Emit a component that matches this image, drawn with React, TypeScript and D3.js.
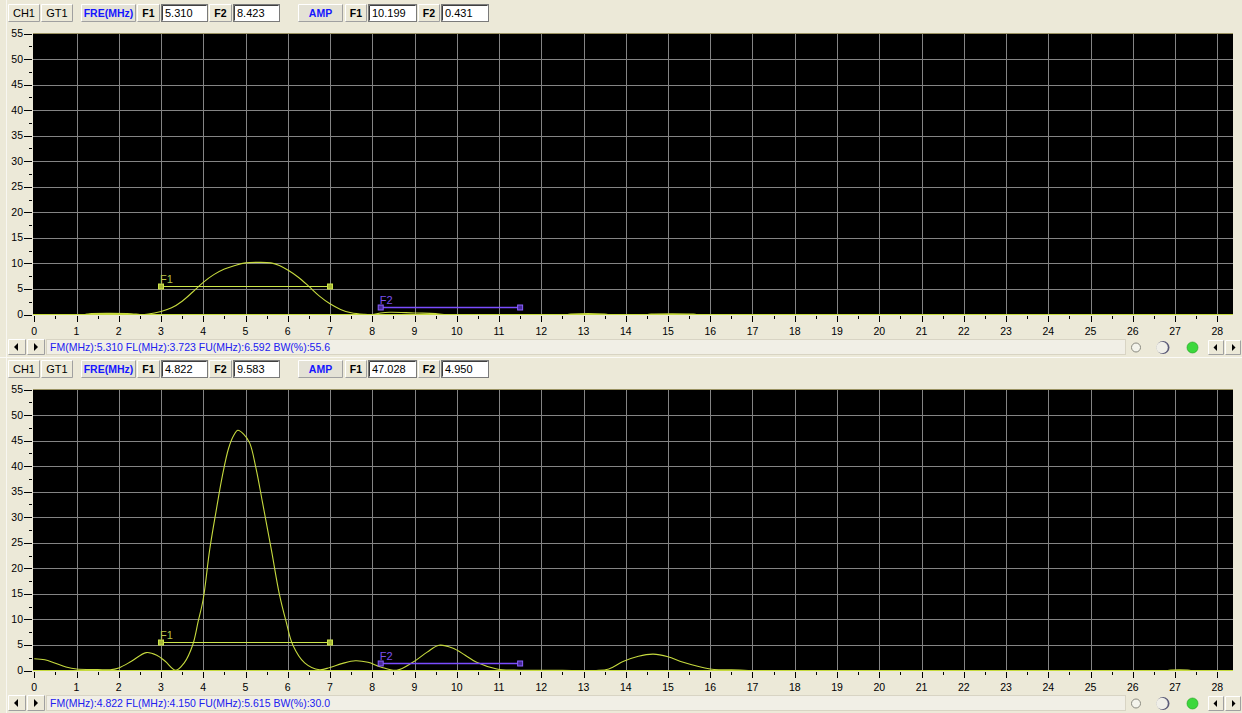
import React from "react";
import * as d3 from "d3";

// frequency axis (MHz) and amplitude axis
const xTicks = d3.range(0, 29);
const xMinorTicks = d3.range(0.5, 28.5, 1);
const yTicks = d3.range(0, 56, 5);
const yMinorTicks = d3.range(2.5, 55, 5);

// top spectrum
const topFreq = [0, 1.2, 1.3, 2.3, 2.5, 2.7, 3.0, 3.25, 3.5, 3.75, 4.0, 4.25, 4.5, 4.75, 5.0, 5.31, 5.6, 5.8, 6.0, 6.25, 6.5, 6.75, 7.0, 7.25, 7.5, 7.8, 8.0, 8.2, 8.42, 9.0, 9.5, 9.7, 12.6, 12.7, 13.5, 13.6, 14.5, 14.6, 15.6, 15.7, 28.4];
const topAmp = [0, 0, 0.15, 0.15, 0, 0.1, 0.6, 1.3, 2.6, 4.4, 6.3, 7.8, 8.9, 9.6, 10.1, 10.2, 10.1, 9.6, 8.7, 7.3, 5.5, 3.6, 2.1, 1.0, 0.35, 0.05, 0, 0.3, 0.43, 0.3, 0.2, 0, 0, 0.1, 0.1, 0, 0, 0.1, 0.1, 0, 0];

// bottom spectrum
const bottomFreq = [0, 0.25, 0.5, 0.75, 1.0, 1.5, 1.8, 2.0, 2.3, 2.65, 2.9, 3.1, 3.35, 3.55, 3.75, 3.88, 4.0, 4.15, 4.3, 4.45, 4.6, 4.72, 4.82, 4.95, 5.1, 5.25, 5.4, 5.615, 5.8, 5.96, 6.12, 6.4, 6.75, 7.0, 7.3, 7.6, 7.9, 8.2, 8.58, 8.96, 9.3, 9.58, 9.9, 10.2, 10.47, 10.95, 11.5, 12.5, 13.3, 13.6, 13.95, 14.3, 14.65, 15.0, 15.36, 16.0, 16.7, 17.0, 26.8, 26.9, 27.3, 27.4, 28.4];
const bottomAmp = [2.3, 2.1, 1.4, 0.7, 0.3, 0.2, 0.15, 0.5, 1.8, 3.5, 3.0, 1.8, 0.05, 1.5, 5.0, 9.6, 14, 23.5, 31, 38, 43.5, 46, 47.03, 46.3, 44.5, 39.5, 33, 23.5, 15, 9.6, 5.0, 1.5, 0.15, 0.6, 1.4, 1.9, 1.6, 0.7, 0.05, 1.6, 3.6, 4.95, 4.4, 3.0, 1.6, 0.3, 0.05, 0.05, 0, 0.3, 1.8, 2.8, 3.2, 2.7, 1.6, 0.3, 0.1, 0, 0, 0.1, 0.1, 0, 0];

// cursor gates
const f1Gate = [3, 7];
const f1Level = 5.5;
const f2Gate = [8.2, 11.5];
const f2Level = 1.5;

const topFields = ["5.310", "8.423", "10.199", "0.431"];
const bottomFields = ["4.822", "9.583", "47.028", "4.950"];
const topStatus = "FM(MHz):5.310 FL(MHz):3.723 FU(MHz):6.592 BW(%):55.6";
const bottomStatus = "FM(MHz):4.822 FL(MHz):4.150 FU(MHz):5.615 BW(%):30.0";

const W = 1242;
const H = 713;
const BG = "#ece9d8";
const FONT = "'Liberation Sans', Arial, sans-serif";
const CURVE = "#c6da3e";
const F1C = "#cde64a";
const F2C = "#7a4cff";

function Button({ x, y, w, h, label, bold = false, color = "#000", face = BG }) {
  return (
    <g>
      <rect x={x} y={y} width={w} height={h} fill={face} />
      <path d={`M${x + 0.5},${y + h - 0.5}V${y + 0.5}H${x + w - 0.5}`} stroke="#fff" fill="none" />
      <path d={`M${x + 0.5},${y + h - 0.5}H${x + w - 0.5}V${y + 0.5}`} stroke="#a0a0a0" fill="none" />
      <text x={x + w / 2} y={y + h / 2 + 4} textAnchor="middle" fontFamily={FONT} fontSize={bold ? 10.5 : 11} fontWeight={bold ? "bold" : "normal"} fill={color}>
        {label}
      </text>
    </g>
  );
}

function Field({ x, y, w, h, text }) {
  return (
    <g>
      <rect x={x + 0.5} y={y + 0.5} width={w - 1} height={h - 1} fill="#fff" stroke="#7a7a7a" />
      <path d={`M${x + 1.5},${y + h - 1.5}V${y + 1.5}H${x + w - 1.5}`} stroke="#404040" fill="none" />
      <text x={x + 4} y={y + h / 2 + 4} fontFamily={FONT} fontSize={11} fill="#000">{text}</text>
    </g>
  );
}

function Panel({ y0, freq, amp, fields, status }) {
  const plotL = 33;
  const plotR = 1233;
  const plotT = y0 + 33;
  const plotB = y0 + 315;
  const x = d3.scaleLinear().domain([0, 28]).range([34.25, 1217.25]);
  const y = d3.scaleLinear().domain([0, 55]).range([y0 + 314.5, y0 + 33.5]);
  const pts = freq.map((f, i) => [f, amp[i]]);
  const line = d3.line().x((d) => x(d[0])).y((d) => y(d[1])).curve(d3.curveCatmullRom.alpha(0.5));
  const clipId = `clip${y0}`;
  const hy = y0 + 4;
  const hh = 18;
  const sy = y0 + 339;
  const f1y = Math.round(y(f1Level)) + 0.5;
  const f2y = Math.round(y(f2Level)) + 0.5;

  return (
    <g>
      {/* header */}
      <Button x={8} y={hy} w={32} h={hh} label="CH1" />
      <Button x={41} y={hy} w={32} h={hh} label="GT1" />
      <Button x={81} y={hy} w={55} h={hh} label="FRE(MHz)" bold color="#1515ff" face="#e4e2d6" />
      <Button x={137} y={hy} w={23} h={hh} label="F1" bold />
      <Field x={161} y={hy} w={47} h={hh} text={fields[0]} />
      <Button x={209} y={hy} w={23} h={hh} label="F2" bold />
      <Field x={233} y={hy} w={47} h={hh} text={fields[1]} />
      <Button x={298} y={hy} w={45} h={hh} label="AMP" bold color="#1515ff" face="#e4e2d6" />
      <Button x={345} y={hy} w={22} h={hh} label="F1" bold />
      <Field x={368} y={hy} w={49} h={hh} text={fields[2]} />
      <Button x={418} y={hy} w={22} h={hh} label="F2" bold />
      <Field x={441} y={hy} w={48} h={hh} text={fields[3]} />

      {/* plot */}
      <defs>
        <clipPath id={clipId}>
          <rect x={plotL} y={plotT} width={plotR - plotL} height={plotB - plotT} />
        </clipPath>
      </defs>
      <rect x={plotL} y={plotT} width={plotR - plotL} height={plotB - plotT} fill="#000" />
      {xTicks.slice(1).map((t) => (
        <line key={`gx${t}`} x1={Math.round(x(t)) + 0.5} x2={Math.round(x(t)) + 0.5} y1={plotT} y2={plotB} stroke="#848484" />
      ))}
      {yTicks.slice(1, -1).map((t) => (
        <line key={`gy${t}`} x1={plotL} x2={plotR} y1={Math.round(y(t)) + 0.5} y2={Math.round(y(t)) + 0.5} stroke="#848484" />
      ))}
      <line x1={plotL} x2={plotR} y1={plotT + 0.5} y2={plotT + 0.5} stroke="#9a9262" />
      <line x1={plotL} x2={plotR} y1={plotB - 0.5} y2={plotB - 0.5} stroke={CURVE} />
      <path d={line(pts)} fill="none" stroke={CURVE} strokeWidth={1.1} clipPath={`url(#${clipId})`} />

      {/* F1 gate */}
      <line x1={x(f1Gate[0])} x2={x(f1Gate[1])} y1={f1y} y2={f1y} stroke={F1C} />
      {f1Gate.map((g) => (
        <rect key={`f1${g}`} x={x(g) - 2.5} y={f1y - 2.5} width={5} height={5} fill="#a8b838" stroke={F1C} />
      ))}
      <text x={x(f1Gate[0]) - 1} y={f1y - 3.5} fontFamily={FONT} fontSize={11} fill="#b4c448">F1</text>
      {/* F2 gate */}
      <line x1={x(f2Gate[0])} x2={x(f2Gate[1])} y1={f2y} y2={f2y} stroke={F2C} strokeWidth={1.4} />
      {f2Gate.map((g) => (
        <rect key={`f2${g}`} x={x(g) - 2.5} y={f2y - 2.5} width={5} height={5} fill="#4a2a9a" stroke="#8a62ff" />
      ))}
      <text x={x(f2Gate[0]) - 1} y={f2y - 3.5} fontFamily={FONT} fontSize={11} fill="#7c50ee">F2</text>

      {/* y axis */}
      {yTicks.map((t) => (
        <g key={`yt${t}`}>
          <line x1={24} x2={32} y1={Math.round(y(t)) + 0.5} y2={Math.round(y(t)) + 0.5} stroke="#000" />
          <text x={23} y={y(t) + 3.5} textAnchor="end" fontFamily={FONT} fontSize={10.5} fill="#000">{t}</text>
        </g>
      ))}
      {yMinorTicks.map((t) => (
        <line key={`ym${t}`} x1={29} x2={32} y1={Math.round(y(t)) + 0.5} y2={Math.round(y(t)) + 0.5} stroke="#000" />
      ))}
      {/* x axis */}
      {xTicks.map((t) => (
        <g key={`xt${t}`}>
          <line x1={Math.round(x(t)) + 0.5} x2={Math.round(x(t)) + 0.5} y1={plotB + 1} y2={plotB + 7} stroke="#000" />
          <text x={x(t)} y={plotB + 20} textAnchor="middle" fontFamily={FONT} fontSize={10.5} fill="#000">{t}</text>
        </g>
      ))}
      {xMinorTicks.map((t) => (
        <line key={`xm${t}`} x1={Math.round(x(t)) + 0.5} x2={Math.round(x(t)) + 0.5} y1={plotB + 1} y2={plotB + 4} stroke="#000" />
      ))}

      {/* status bar */}
      <Button x={8} y={sy} w={18} h={16} label="" />
      <Button x={27} y={sy} w={18} h={16} label="" />
      <path d={`M${14},${sy + 8}l4,-4v8z`} fill="#000" />
      <path d={`M${38},${sy + 8}l-4,-4v8z`} fill="#000" />
      <rect x={46.5} y={sy + 0.5} width={1079} height={15} fill="#f1efe6" stroke="#d8d4c4" />
      <text x={50} y={sy + 12} fontFamily={FONT} fontSize={10.5} fill="#2020f0">{status}</text>
      <circle cx={1136} cy={sy + 8.5} r={4.5} fill="#f4f4ec" stroke="#8a8a80" />
      <circle cx={1163} cy={sy + 8.5} r={6.5} fill="#5a5a78" />
      <circle cx={1162} cy={sy + 8.5} r={5.8} fill="#f0efe8" />
      <circle cx={1192.5} cy={sy + 8.5} r={5.5} fill="#3cd83c" stroke="#20a020" strokeWidth={0.6} />
      <Button x={1208} y={sy + 1} w={16} h={15} label="" />
      <Button x={1225} y={sy + 1} w={16} h={15} label="" />
      <path d={`M${1213.5},${sy + 8.5}l3.5,-3.5v7z`} fill="#000" />
      <path d={`M${1235.5},${sy + 8.5}l-3.5,-3.5v7z`} fill="#000" />
      <line x1={0} x2={W} y1={sy + 18.5} y2={sy + 18.5} stroke="#fbfaf6" />
    </g>
  );
}

export default function App() {
  return (
    <svg width={W} height={H} style={{ position: "absolute", left: 0, top: 0, background: BG }}>
      <rect width={W} height={H} fill={BG} />
      <line x1={6.5} x2={6.5} y1={0} y2={H} stroke="#f8f7f2" />
      <Panel y0={0} freq={topFreq} amp={topAmp} fields={topFields} status={topStatus} />
      <Panel y0={356} freq={bottomFreq} amp={bottomAmp} fields={bottomFields} status={bottomStatus} />
    </svg>
  );
}
